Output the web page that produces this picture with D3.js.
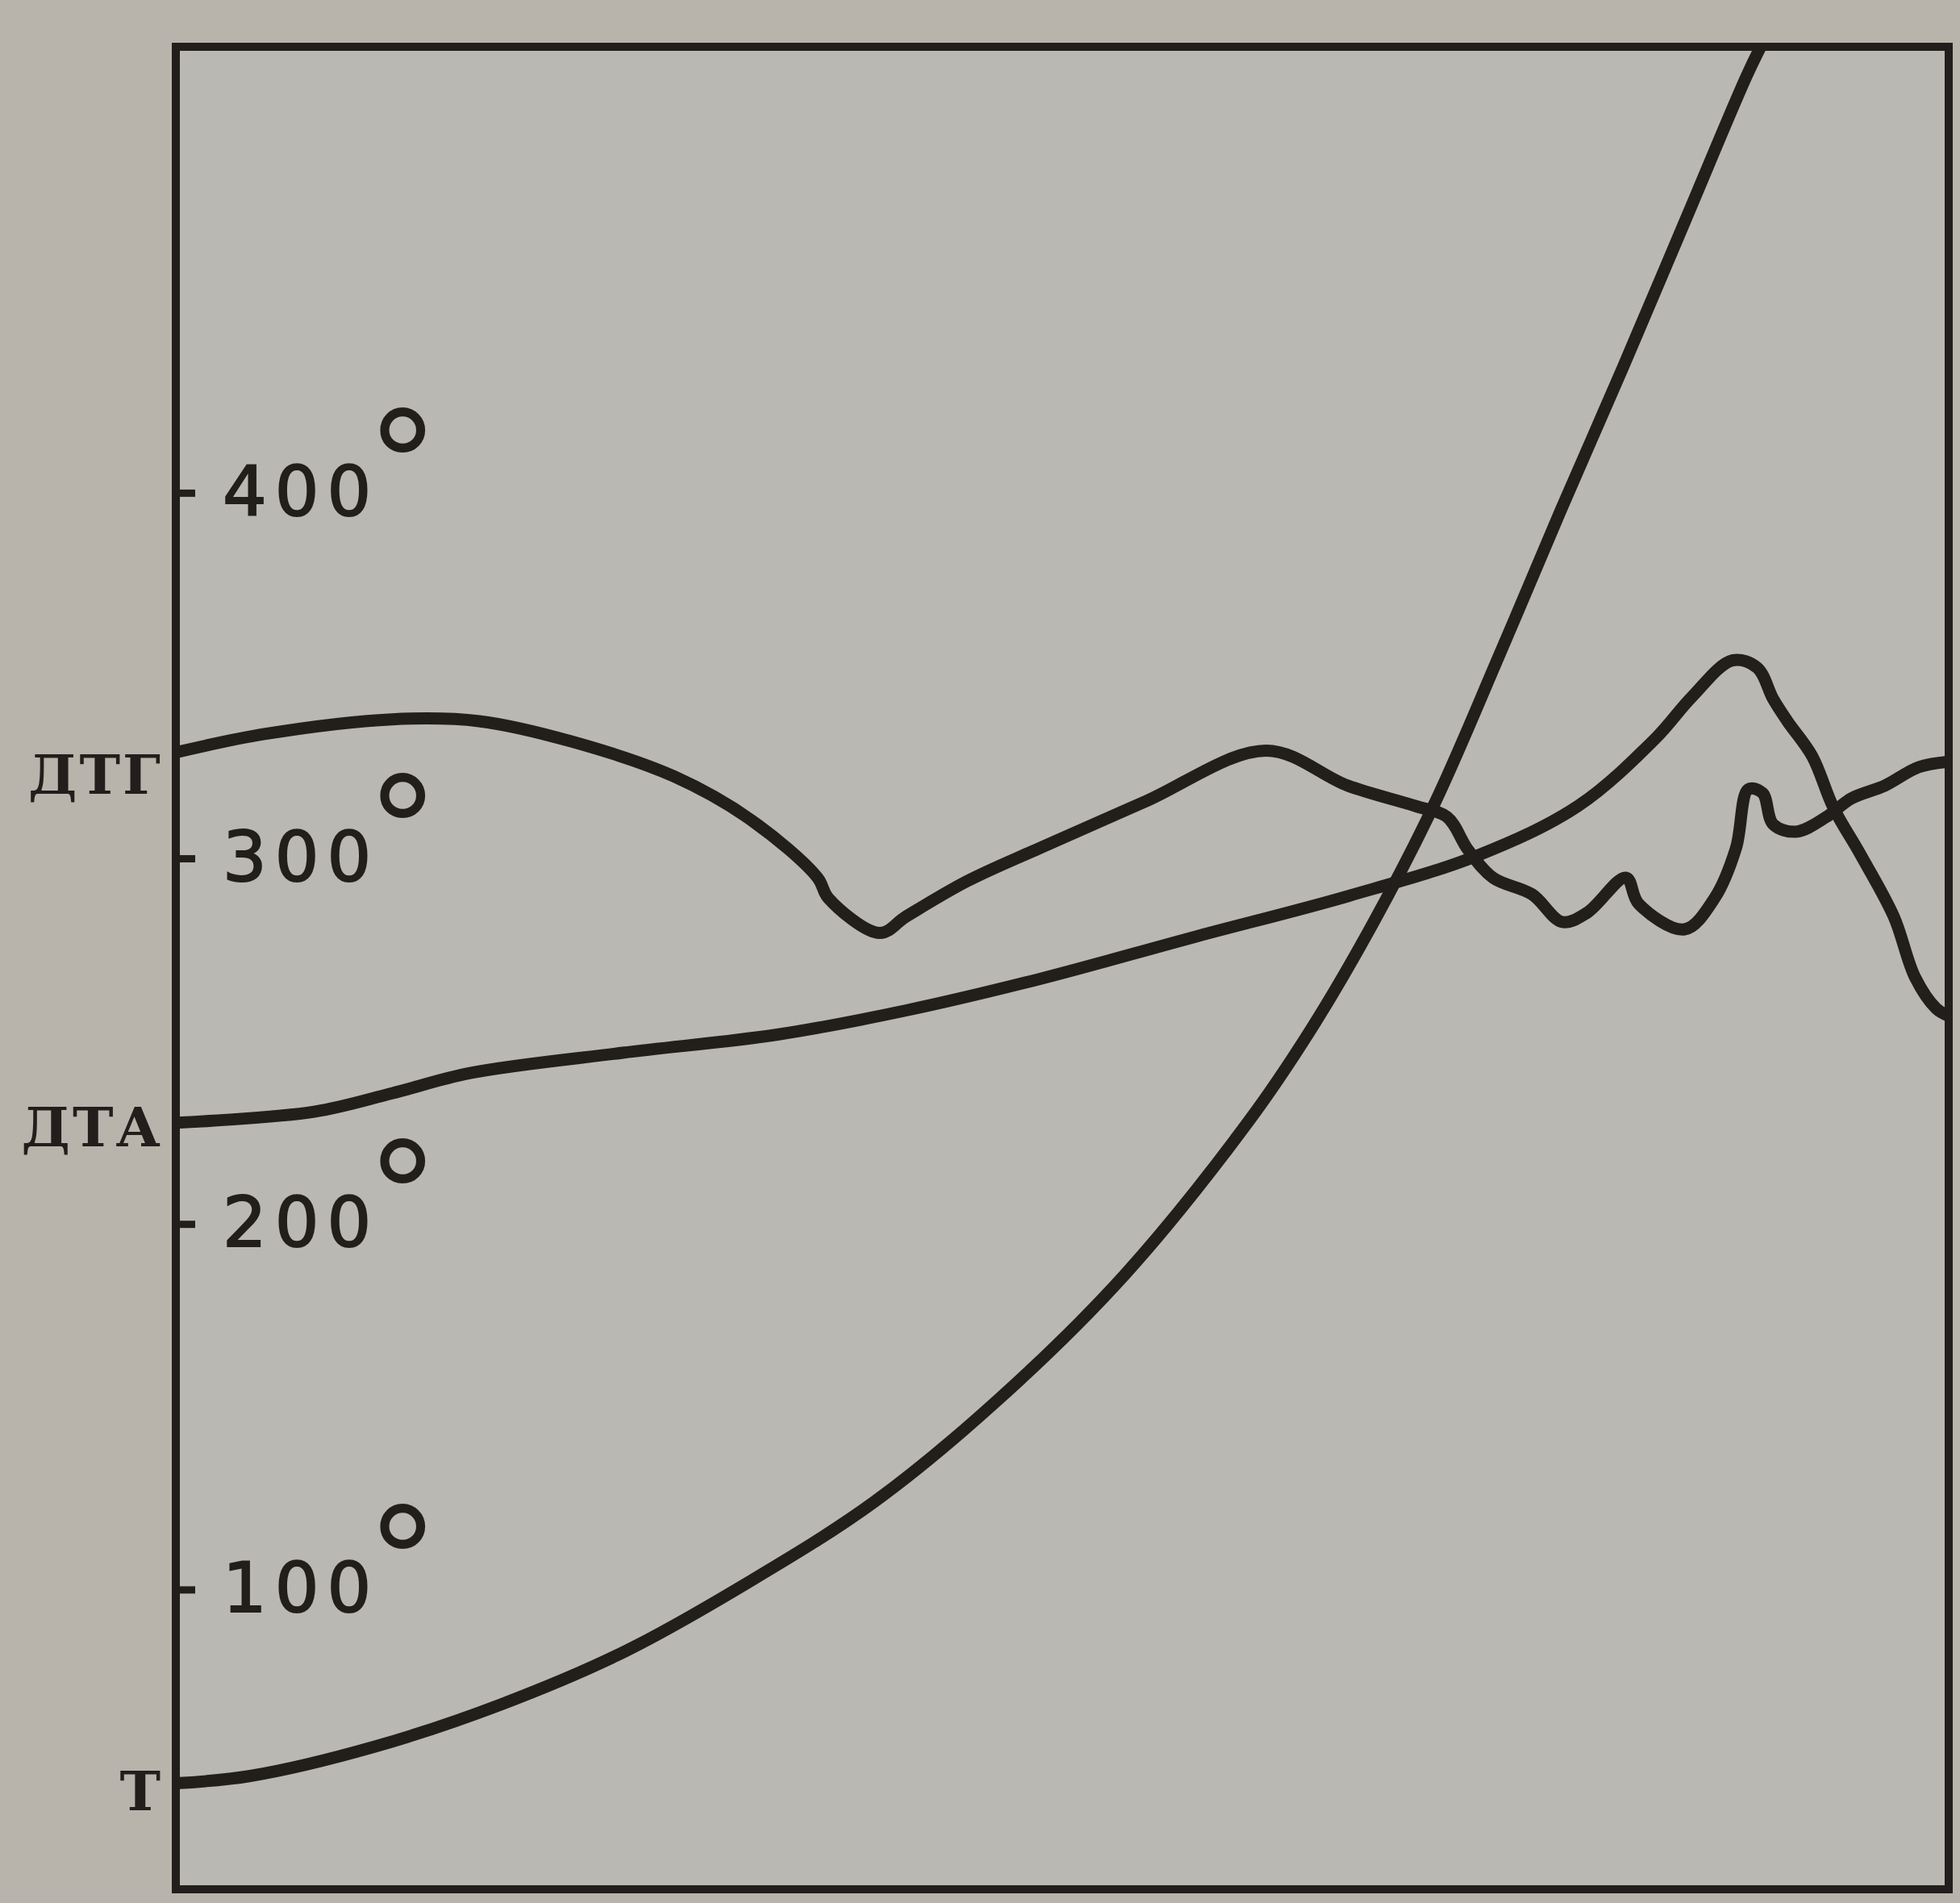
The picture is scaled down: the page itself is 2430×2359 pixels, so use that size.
<!DOCTYPE html>
<html>
<head>
<meta charset="utf-8">
<script src="https://cdn.jsdelivr.net/npm/d3@7/dist/d3.min.js"></script>
<style>
body{margin:0;background:#b8b4ab;}
svg{display:block;}
</style>
</head>
<body>
<div id="chart"></div>
<script>
// heating time, arbitrary units (0 = left edge, 100 = right edge)
var tTime = [0, 4.2, 11.2, 18.3, 25.3, 32.3, 39.4, 46.4, 53.5, 60.5, 64.0, 67.5, 71.0, 74.6, 78.1, 81.6, 85.1, 88.6, 89.6];
// temperature curve T, degrees
var tTemp = [47, 49, 57, 68.5, 83, 102, 124, 152, 186, 228, 253, 282, 315, 355, 395, 434, 474, 514, 524];

// DTA curve, relative deflection (0 = bottom of frame, 100 = top)
var dtaTime = [0, 7.8, 12.2, 16.6, 25.2, 34.0, 41.2, 48.7, 57.5, 66.1, 73.4, 79.1, 83.5, 85.5, 87.8, 89.2, 90.1, 90.9, 92.3, 93.5, 95.0, 96.9, 98.1, 99.3, 100];
var dtaVal = [41.6, 42.2, 43.2, 44.3, 45.4, 46.4, 47.7, 49.4, 51.7, 53.9, 56.1, 58.8, 62.5, 64.7, 66.7, 66.3, 64.6, 63.4, 61.5, 58.7, 56.2, 52.8, 49.5, 47.8, 47.4];

// DTG curve, relative deflection
var dtgTime = [0, 5.0, 12.2, 17.1, 22.3, 28.1, 32.5, 36.2, 36.8, 39.7, 41.2, 44.6, 48.7, 54.6, 61.5, 66.1, 69.9, 71.7, 72.9, 74.3, 76.5, 78.2, 79.6, 81.8, 82.5, 85.1, 86.8, 88.0, 88.7, 89.5, 90.1, 91.4, 93.1, 94.5, 96.4, 98.3, 100];
var dtgVal = [61.7, 62.7, 63.5, 63.4, 62.3, 60.4, 58.0, 54.9, 53.8, 51.9, 52.8, 54.7, 56.5, 59.0, 61.8, 59.9, 58.8, 58.2, 56.4, 54.9, 54.0, 52.5, 53.0, 54.9, 53.5, 52.1, 53.8, 56.5, 59.7, 59.5, 57.8, 57.4, 58.2, 59.2, 59.9, 60.9, 61.2];

var tempTicks = [100, 200, 300, 400];
var curveNames = ["ДТГ", "ДТА", "T"];

var w = 2430;
var h = 2359;
var frameL = 218, frameR = 2416, frameT = 58, frameB = 2342;
var ink = "#221e1c";
var svg, xScale, yTemp, yRel;

function setScales(){
  xScale = d3.scaleLinear().domain([0, 100]).range([frameL, frameR]);
  yTemp = d3.scaleLinear().domain([18, 522]).range([frameB, frameT]);
  yRel = d3.scaleLinear().domain([0, 100]).range([frameB, frameT]);
}

function zip(xs, ys){
  return xs.map(function(d, i){ return [d, ys[i]]; });
}

function drawFrame(){
  svg = d3.select("#chart").append("svg")
    .attr("width", w)
    .attr("height", h);

  svg.append("rect")
    .attr("x", frameL).attr("y", frameT)
    .attr("width", frameR - frameL).attr("height", frameB - frameT)
    .attr("fill", "#bab8b2");

  svg.append("clipPath").attr("id", "plot")
    .append("rect")
    .attr("x", frameL).attr("y", frameT)
    .attr("width", frameR - frameL).attr("height", frameB - frameT);
}

function drawAxis(){
  var axis = svg.append("g")
    .attr("transform", "translate(" + frameL + ",0)")
    .call(d3.axisRight(yTemp)
      .tickValues(tempTicks)
      .tickSize(24)
      .tickPadding(34)
      .tickFormat(function(d){ return d; }));

  axis.select(".domain").remove();
  axis.selectAll(".tick line")
    .attr("stroke", ink)
    .attr("stroke-width", 9);
  axis.selectAll(".tick text")
    .attr("fill", ink)
    .attr("stroke", ink)
    .attr("stroke-width", 2)
    .attr("font-family", "'DejaVu Sans', sans-serif")
    .attr("font-size", 86)
    .attr("letter-spacing", 10)
    .append("tspan")
    .attr("font-size", 180)
    .attr("letter-spacing", 0)
    .attr("stroke", "none")
    .attr("dx", -16)
    .attr("dy", "0em")
    .text("°");
}

function drawCurves(){
  var line = d3.line()
    .x(function(d){ return xScale(d[0]); })
    .curve(d3.curveCatmullRom.alpha(0.5));

  var g = svg.append("g").attr("clip-path", "url(#plot)");

  g.append("path")
    .datum(zip(tTime, tTemp))
    .attr("d", line.y(function(d){ return yTemp(d[1]); }))
    .attr("fill", "none").attr("stroke", ink).attr("stroke-width", 15)
    .attr("stroke-linejoin", "round");

  g.append("path")
    .datum(zip(dtaTime, dtaVal))
    .attr("d", line.y(function(d){ return yRel(d[1]); }))
    .attr("fill", "none").attr("stroke", ink).attr("stroke-width", 15)
    .attr("stroke-linejoin", "round");

  g.append("path")
    .datum(zip(dtgTime, dtgVal))
    .attr("d", line.y(function(d){ return yRel(d[1]); }))
    .attr("fill", "none").attr("stroke", ink).attr("stroke-width", 15)
    .attr("stroke-linejoin", "round");

  // frame on top of curves
  svg.append("rect")
    .attr("x", frameL).attr("y", frameT)
    .attr("width", frameR - frameL).attr("height", frameB - frameT)
    .attr("fill", "none").attr("stroke", ink).attr("stroke-width", 10);
}

function drawLabels(){
  // names sit just left of the frame, next to where each curve starts
  var starts = [yRel(dtgVal[0]) + 34, yRel(dtaVal[0]) + 12, yTemp(tTemp[0]) + 16];
  svg.selectAll(".curveName")
    .data(curveNames)
    .enter()
    .append("text")
    .attr("class", "curveName")
    .attr("x", frameL - 16)
    .attr("y", function(d, i){ return starts[i]; })
    .attr("dominant-baseline", "middle")
    .attr("text-anchor", "end")
    .attr("font-family", "'DejaVu Serif', serif")
    .attr("font-weight", "bold")
    .attr("font-size", 68)
    .attr("letter-spacing", 3)
    .attr("fill", ink)
    .text(function(d){ return d; });
}

setScales();
drawFrame();
drawAxis();
drawCurves();
drawLabels();
</script>
</body>
</html>
